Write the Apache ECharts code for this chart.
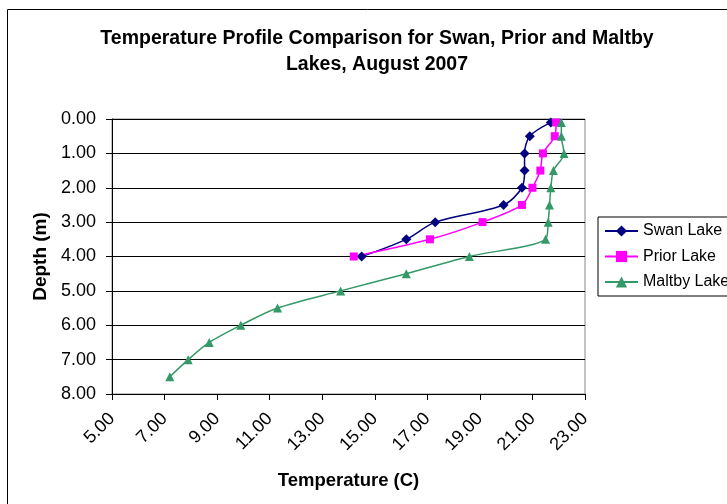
<!DOCTYPE html>
<html>
<head>
<meta charset="utf-8">
<script src="https://cdn.jsdelivr.net/npm/echarts@6/dist/echarts.min.js"></script>
<style>
  html, body { margin: 0; padding: 0; background: #fff; overflow: hidden; }
  #chart { width: 727px; height: 504px; }
</style>
</head>
<body>
<div id="chart"></div>
<script>
// Depth sampling points (m)
const depthsShallow = [0.1, 0.5, 1.0, 1.5, 2.0, 2.5, 3.0, 3.5, 4.0];
const depthsMaltby = [0.1, 0.5, 1.0, 1.5, 2.0, 2.5, 3.0, 3.5, 4.0, 4.5, 5.0, 5.5, 6.0, 6.5, 7.0, 7.5];

// Water temperature (C) at each depth
const swanTemps   = [21.7, 20.9, 20.7, 20.7, 20.6, 19.9, 17.3, 16.2, 14.5];
const priorTemps  = [21.9, 21.85, 21.4, 21.3, 21.0, 20.6, 19.1, 17.1, 14.2];
const maltbyTemps = [22.1, 22.1, 22.2, 21.8, 21.7, 21.65, 21.6, 21.5, 18.6, 16.2, 13.7, 11.3, 9.9, 8.7, 7.9, 7.2];

const seriesNames = ['Swan Lake', 'Prior Lake', 'Maltby Lake'];

function pairs(temps, depths) {
  return temps.map((t, i) => [t, depths[i]]);
}

const FONT = 'Liberation Sans, Arial, sans-serif';

const chart = echarts.init(document.getElementById('chart'));

function lineSeries(name, data, color, symbol, size) {
  return {
    name: name,
    type: 'line',
    data: data,
    smooth: 0.3,
    symbol: symbol,
    symbolSize: size,
    showSymbol: true,
    lineStyle: { color: color, width: 1.5 },
    itemStyle: { color: color },
    emphasis: { disabled: true },
    animation: false
  };
}

chart.setOption({
  animation: false,
  backgroundColor: '#fff',
  title: {
    text: 'Temperature Profile Comparison for Swan, Prior and Maltby\nLakes, August 2007',
    left: 372,
    textAlign: 'center',
    top: 21,
    textStyle: { fontFamily: FONT, fontSize: 19.5, fontWeight: 'bold', color: '#000', lineHeight: 26 }
  },
  graphic: [{
    type: 'rect',
    shape: { x: 7.5, y: 9.5, width: 800, height: 600 },
    style: { fill: 'none', stroke: '#000', lineWidth: 1 },
    silent: true
  }],
  legend: {
    orient: 'vertical',
    left: 598,
    top: 217,
    padding: [6, 20, 6, 6],
    itemWidth: 33,
    itemHeight: 14,
    itemGap: 9.5,
    borderColor: '#000',
    borderWidth: 1,
    data: seriesNames,
    textStyle: { fontFamily: FONT, fontSize: 16, color: '#000' }
  },
  grid: { left: 112, top: 119, width: 473, height: 275, show: true, borderColor: '#888', borderWidth: 1 },
  xAxis: {
    type: 'value',
    min: 5, max: 23, interval: 2,
    name: 'Temperature (C)',
    nameLocation: 'middle',
    nameGap: 77,
    nameTextStyle: { fontFamily: FONT, fontSize: 18.5, fontWeight: 'bold', color: '#000' },
    axisLine: { show: true, onZero: false, lineStyle: { color: '#000', width: 1 } },
    axisTick: { show: true, length: 6, lineStyle: { color: '#000' } },
    splitLine: { show: false },
    axisLabel: {
      rotate: 45, margin: 22,
      fontFamily: FONT, fontSize: 18, color: '#000',
      formatter: v => v.toFixed(2)
    }
  },
  yAxis: {
    type: 'value',
    inverse: true,
    min: 0, max: 8, interval: 1,
    name: 'Depth (m)',
    nameLocation: 'middle',
    nameGap: 62,
    nameRotate: 90,
    nameTextStyle: { fontFamily: FONT, fontSize: 19, fontWeight: 'bold', color: '#000' },
    axisLine: { show: true, onZero: false, lineStyle: { color: '#000', width: 1 } },
    axisTick: { show: true, length: 6, lineStyle: { color: '#000' } },
    splitLine: { show: true, lineStyle: { color: '#000', width: 1 } },
    axisLabel: {
      margin: 16,
      fontFamily: FONT, fontSize: 18, color: '#000',
      formatter: v => v.toFixed(2)
    }
  },
  series: [
    lineSeries(seriesNames[0], pairs(swanTemps, depthsShallow), '#000080', 'diamond', 10),
    lineSeries(seriesNames[1], pairs(priorTemps, depthsShallow), '#FF00FF', 'rect', 8),
    lineSeries(seriesNames[2], pairs(maltbyTemps, depthsMaltby), '#339966', 'triangle', 9)
  ]
});
</script>
</body>
</html>
